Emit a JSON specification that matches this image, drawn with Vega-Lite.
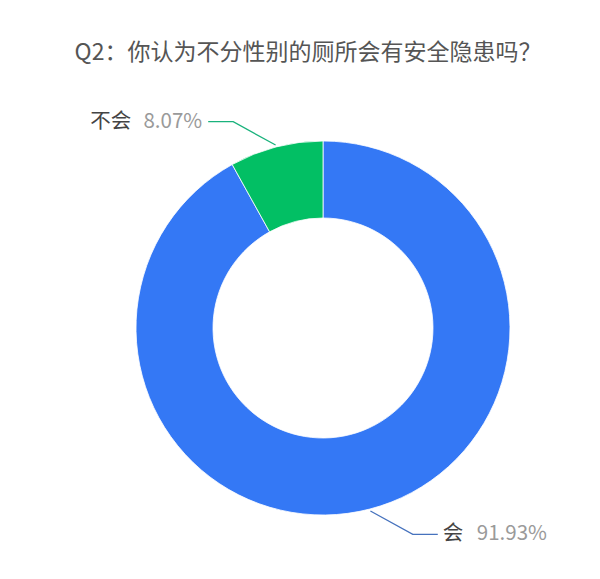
{
  "$schema": "https://vega.github.io/schema/vega-lite/v6.json",
  "autosize": "none",
  "width": 554,
  "height": 502,
  "padding": {"left": 46, "top": 77, "right": 0, "bottom": 0},
  "background": "#ffffff",
  "title": {
    "text": "Q2：你认为不分性别的厕所会有安全隐患吗？",
    "font": "Noto Sans CJK SC",
    "fontSize": 23,
    "fontWeight": "normal",
    "color": "#555555",
    "anchor": "middle",
    "dx": -15,
    "offset": 12
  },
  "data": {
    "values": [
      {"answer": "会", "value": 91.93},
      {"answer": "不会", "value": 8.07}
    ]
  },
  "layer": [
    {
      "mark": {"type": "arc", "outerRadius": 187, "innerRadius": 110, "stroke": "#ffffff", "strokeWidth": 0.8},
      "encoding": {
        "theta": {"field": "value", "type": "quantitative", "stack": true},
        "order": {"field": "value", "sort": "descending"},
        "color": {
          "field": "answer",
          "type": "nominal",
          "scale": {"domain": ["会", "不会"], "range": ["#3478f5", "#02bf64"]},
          "legend": null
        }
      }
    },
    {
      "transform": [
        {"joinaggregate": [{"op": "sum", "field": "value", "as": "total"}]},
        {"window": [{"op": "sum", "field": "value", "as": "cum"}], "sort": [{"field": "value", "order": "descending"}], "frame": [null, 0]},
        {"calculate": "(datum.cum - datum.value / 2) / datum.total * 2 * PI", "as": "mid"},
        {"calculate": "sin(datum.mid) < 0 ? -1 : 1", "as": "side"},
        {"calculate": "datum.mid - 0.157", "as": "ea"},
        {"calculate": "[189 * sin(datum.mid), 225 * sin(datum.ea), 225 * sin(datum.ea) + datum.side * 25]", "as": "xs"},
        {"calculate": "[189 * cos(datum.mid), 225 * cos(datum.ea), 225 * cos(datum.ea)]", "as": "ys"},
        {"calculate": "[0, 1, 2]", "as": "k"},
        {"flatten": ["xs", "ys", "k"]}
      ],
      "mark": {"type": "line", "strokeWidth": 1.3},
      "encoding": {
        "x": {"field": "xs", "type": "quantitative", "scale": {"domain": [-277, 277], "nice": false}, "axis": null},
        "y": {"field": "ys", "type": "quantitative", "scale": {"domain": [-251, 251], "nice": false}, "axis": null},
        "order": {"field": "k"},
        "detail": {"field": "answer"},
        "stroke": {
          "field": "answer",
          "type": "nominal",
          "scale": {"domain": ["会", "不会"], "range": ["#4672bd", "#1ab27c"]},
          "legend": null
        }
      }
    },
    {
      "transform": [
        {"joinaggregate": [{"op": "sum", "field": "value", "as": "total"}]},
        {"window": [{"op": "sum", "field": "value", "as": "cum"}], "sort": [{"field": "value", "order": "descending"}], "frame": [null, 0]},
        {"calculate": "(datum.cum - datum.value / 2) / datum.total * 2 * PI", "as": "mid"},
        {"calculate": "sin(datum.mid) < 0 ? -1 : 1", "as": "side"},
        {"calculate": "datum.mid - 0.157", "as": "ea"},
        {"calculate": "225 * sin(datum.ea) + datum.side * 25", "as": "ex"},
        {"calculate": "225 * cos(datum.ea)", "as": "ey"},
        {"calculate": "datum.side < 0 ? datum.ex - 77 : datum.ex + 5", "as": "nx"},
        {"calculate": "datum.side < 0 ? datum.ex - 6 : datum.ex + 39", "as": "px"},
        {"calculate": "format(datum.value, '.2f') + '%'", "as": "pct"}
      ],
      "layer": [
        {
          "mark": {
            "type": "text",
            "font": "Noto Sans CJK SC",
            "fontSize": 20.5,
            "color": "#444444",
            "baseline": "middle",
            "align": {"expr": "datum.side < 0 ? 'right' : 'left'"}
          },
          "encoding": {
            "x": {"field": "nx", "type": "quantitative"},
            "y": {"field": "ey", "type": "quantitative"},
            "text": {"field": "answer"}
          }
        },
        {
          "mark": {
            "type": "text",
            "font": "Noto Sans CJK SC",
            "fontSize": 20.5,
            "color": "#9a9a9a",
            "baseline": "middle",
            "align": {"expr": "datum.side < 0 ? 'right' : 'left'"}
          },
          "encoding": {
            "x": {"field": "px", "type": "quantitative"},
            "y": {"field": "ey", "type": "quantitative"},
            "text": {"field": "pct"}
          }
        }
      ]
    }
  ],
  "config": {"view": {"stroke": null}}
}
